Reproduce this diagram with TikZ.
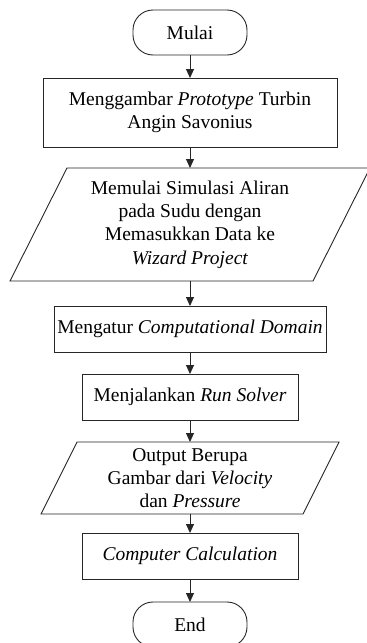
\documentclass[tikz,border=0pt]{standalone}
\usepackage{fontspec}
\setmainfont{Liberation Serif}
\usetikzlibrary{arrows.meta}
\begin{document}
\begin{tikzpicture}[x=1pt,y=-1pt,
  font=\fontsize{19.5}{23.3}\selectfont,
  every node/.style={inner sep=0pt, outer sep=0pt, align=center},
  lw/.style={line width=0.9pt, draw=black!85},
  term/.style={lw, draw, rounded corners=20pt, minimum width=114pt, minimum height=45pt},
  proc/.style={lw, draw},
  iobox/.style={draw=none},
  flow/.style={lw, -{Triangle[length=9pt,width=8pt]}}
]
\useasboundingbox (0,0) rectangle (367,643);

\node[term] (mulai) at (190,32.5) {Mulai};
\node[proc, minimum width=294pt, minimum height=69pt] (b1) at (190,112.5)
  {Menggambar \textit{Prototype} Turbin\\Angin Savonius};
\node[iobox, minimum width=303pt, minimum height=113pt] (p1) at (190,224.5)
  {Memulai Simulasi Aliran\\pada Sudu dengan\\Memasukkan Data ke\\\textit{Wizard Project}};
\node[proc, minimum width=272pt, minimum height=46pt] (b2) at (190,329)
  {Mengatur \textit{Computational Domain}};
\node[proc, minimum width=216pt, minimum height=46pt] (b3) at (190,397)
  {Menjalankan \textit{Run Solver}};
\node[iobox, minimum width=262pt, minimum height=72pt] (p2) at (190,478)
  {Output Berupa\\Gambar dari \textit{Velocity}\\dan \textit{Pressure}};
\node[proc, minimum width=216pt, minimum height=46pt] (b4) at (190,556)
  {\textit{Computer Calculation}};
\node[term] (end) at (190,624.5) {End};

\draw[lw] ([xshift=28.5pt]p1.north west) -- ([xshift=28.5pt]p1.north east)
  -- ([xshift=-28.5pt]p1.south east) -- ([xshift=-28.5pt]p1.south west) -- cycle;
\draw[lw] ([xshift=18pt]p2.north west) -- ([xshift=18pt]p2.north east)
  -- ([xshift=-18pt]p2.south east) -- ([xshift=-18pt]p2.south west) -- cycle;

\draw[flow] (mulai.south) -- (b1.north);
\draw[flow] (b1.south) -- (p1.north);
\draw[flow] (p1.south) -- (b2.north);
\draw[flow] (b2.south) -- (b3.north);
\draw[flow] (b3.south) -- (p2.north);
\draw[flow] (p2.south) -- (b4.north);
\draw[flow] (b4.south) -- (end.north);
\end{tikzpicture}
\end{document}
